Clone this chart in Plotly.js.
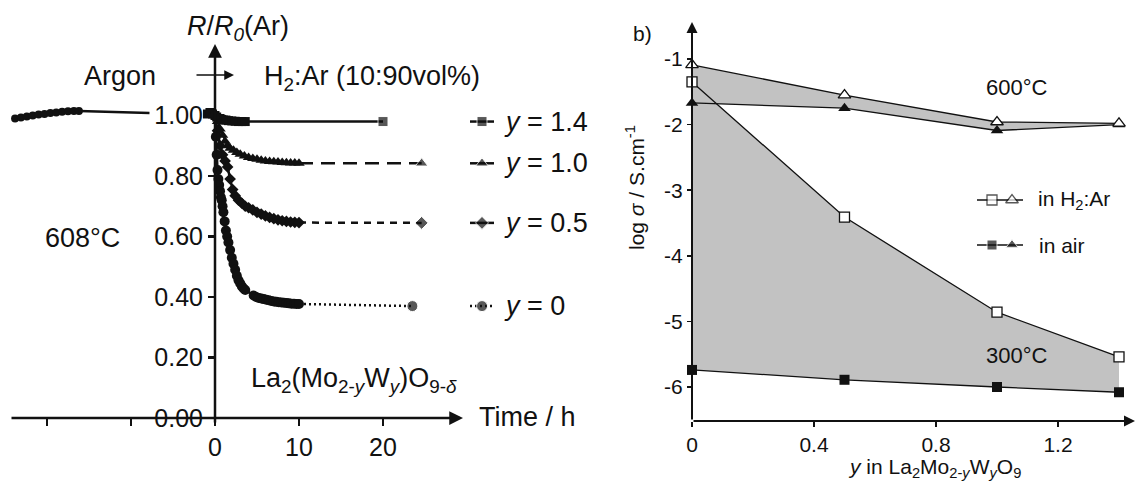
<!DOCTYPE html>
<html>
<head>
<meta charset="utf-8">
<script src="https://cdn.plot.ly/plotly-3.0.1.min.js"></script>
<style>html,body{margin:0;padding:0;background:#fff;}#chart{width:1136px;height:484px;}</style>
</head>
<body>
<div id="chart"></div>
<script>
// ---------- Panel a) data : R/R0 vs time ----------
const argonTime = [-23.8,-23.1,-22.4,-21.7,-21.0,-20.3,-19.6,-18.9,-18.2,-17.5,-16.8,-16.2];
const argonR    = [0.99,0.993,0.997,1.0,1.003,1.005,1.008,1.01,1.012,1.014,1.015,1.015];
const argonEndTime = -7.8;
const argonEndR = 1.008;

const seriesLabels = ['1.4', '1.0', '0.5', '0'];

const time14 = [-0.9,-0.6,-0.3,0,0.2,0.4,0.6,0.8,1.0,1.3,1.6,2.0,2.4,2.8,3.2,3.6];
const r14    = [1.005,1.01,1.005,1.0,0.995,0.99,0.99,0.987,0.985,0.985,0.983,0.982,0.981,0.98,0.98,0.98];

const time10 = [0,0.3,0.6,0.9,1.2,1.5,1.8,2.2,2.6,3.0,3.5,4.0,4.5,5.0,5.5,6.0,6.5,7.0,7.5,8.0,8.5,9.0,9.5,10.0];
const r10    = [1.0,0.98,0.955,0.935,0.915,0.9,0.892,0.885,0.878,0.872,0.866,0.861,0.858,0.855,0.852,0.85,0.848,0.847,0.846,0.845,0.844,0.843,0.843,0.842];

const time05 = [0,0.3,0.6,0.9,1.2,1.5,1.8,2.1,2.4,2.8,3.2,3.6,4.0,4.5,5.0,5.5,6.0,6.5,7.0,7.5,8.0,8.5,9.0,9.5,10.0];
const r05    = [1.0,0.95,0.9,0.87,0.85,0.83,0.79,0.755,0.735,0.72,0.71,0.70,0.695,0.688,0.68,0.674,0.668,0.663,0.659,0.655,0.652,0.65,0.648,0.647,0.646];

const time00 = [0,0.1,0.2,0.3,0.4,0.5,0.6,0.7,0.8,0.9,1.0,1.15,1.3,1.45,1.6,1.8,2.0,2.2,2.4,2.6,2.8,3.0,3.2,3.4,3.6,4.6,4.9,5.2,5.5,5.8,6.1,6.4,6.7,7.0,7.3,7.6,7.9,8.2,8.5,8.8,9.1,9.4,9.7,10.0];
const r00    = [1.0,0.93,0.87,0.82,0.79,0.77,0.75,0.73,0.72,0.70,0.68,0.65,0.62,0.6,0.58,0.555,0.53,0.51,0.49,0.47,0.455,0.445,0.435,0.428,0.423,0.405,0.4,0.397,0.395,0.393,0.391,0.389,0.387,0.385,0.384,0.383,0.382,0.381,0.38,0.379,0.378,0.378,0.377,0.377];

const endTime = [20, 24.6, 24.6, 23.5];
const endR    = [0.98, 0.842, 0.645, 0.37];

const yTicksA = [0, 0.2, 0.4, 0.6, 0.8, 1.0];
const yTickTextA = ['0.00', '0.20', '0.40', '0.60', '0.80', '1.00'];
const xTicksA = [-20, -10, 0, 10, 20];
const xTickTextA = ['', '', '0', '10', '20'];

// ---------- Panel b) data : log sigma vs y ----------
const yW      = [0, 0.5, 1.0, 1.4];
const h2ar600 = [-1.09, -1.55, -1.96, -1.98];
const air600  = [-1.67, -1.75, -2.09, -2.0];
const h2ar300 = [-1.35, -3.41, -4.86, -5.54];
const air300  = [-5.74, -5.89, -6.00, -6.08];

const yTicksB = [-1, -2, -3, -4, -5, -6];
const yTickTextB = ['-1', '-2', '-3', '-4', '-5', '-6'];
const xTicksB = [0, 0.4, 0.8, 1.2];
const xTickTextB = ['0', '0.4', '0.8', '1.2'];

// ---------- layout geometry ----------
const W = 1136, H = 484;
const FONT = 'Liberation Sans, Arial, Helvetica, sans-serif';
const INK = '#111';
const px = v => v / W;
const py = v => 1 - v / H;

const aX0 = 215, aXs = 8.4, aY0 = 418, aYs = 302.5;
const bX0 = 692, bXs = 305, bY1 = 59, bYs = 65.6;

const symbolsA = ['square', 'triangle-up', 'diamond', 'circle'];
const sizesA = [9, 10, 9, 10];
const dashA = ['solid', '14px,8px', '7px,6px', '2px,3px'];
const timesA = [time14, time10, time05, time00];
const valsA = [r14, r10, r05, r00];

const traces = [];

// panel b fills first (so that all lines and markers lie on top)
const GREY = '#c2c2c2';
traces.push({x: yW, y: air300, xaxis: 'x2', yaxis: 'y2', mode: 'lines', line: {width: 0, color: 'rgba(0,0,0,0)'}, hoverinfo: 'skip'});
traces.push({x: yW, y: h2ar300, xaxis: 'x2', yaxis: 'y2', mode: 'lines', line: {width: 0, color: 'rgba(0,0,0,0)'}, fill: 'tonexty', fillcolor: GREY, hoverinfo: 'skip'});
traces.push({x: yW, y: air600, xaxis: 'x2', yaxis: 'y2', mode: 'lines', line: {width: 0, color: 'rgba(0,0,0,0)'}, hoverinfo: 'skip'});
traces.push({x: yW, y: h2ar600, xaxis: 'x2', yaxis: 'y2', mode: 'lines', line: {width: 0, color: 'rgba(0,0,0,0)'}, fill: 'tonexty', fillcolor: GREY, hoverinfo: 'skip'});

// argon segment
traces.push({x: argonTime, y: argonR, xaxis: 'x', yaxis: 'y', mode: 'lines+markers',
  line: {color: INK, width: 2.5}, marker: {symbol: 'circle', size: 8, color: INK}, hoverinfo: 'skip'});
traces.push({x: [argonTime[argonTime.length - 1], argonEndTime], y: [argonR[argonR.length - 1], argonEndR],
  xaxis: 'x', yaxis: 'y', mode: 'lines', line: {color: INK, width: 2.5}, hoverinfo: 'skip'});

for (let i = 0; i < 4; i++) {
  const t = timesA[i], r = valsA[i];
  traces.push({x: [t[t.length - 1], endTime[i]], y: [r[r.length - 1], endR[i]], xaxis: 'x', yaxis: 'y',
    mode: 'lines+markers', line: {color: INK, width: 2.5, dash: dashA[i]},
    marker: {symbol: symbolsA[i], size: [0, sizesA[i] + 1], color: INK}, cliponaxis: false, hoverinfo: 'skip'});
  traces.push({x: t, y: r, xaxis: 'x', yaxis: 'y', mode: 'lines+markers',
    line: {color: INK, width: 2.5}, marker: {symbol: symbolsA[i], size: sizesA[i], color: INK},
    cliponaxis: false, hoverinfo: 'skip'});
  traces.push({x: [(470 - aX0) / aXs, (482 - aX0) / aXs, (494 - aX0) / aXs], y: [endR[i], endR[i], endR[i]],
    xaxis: 'x', yaxis: 'y', mode: 'lines+markers', line: {color: INK, width: 2.5, dash: i === 3 ? '2px,3px' : 'solid'},
    marker: {symbol: symbolsA[i], size: [0, sizesA[i] + 1, 0], color: INK}, cliponaxis: false, hoverinfo: 'skip'});
}

const lineB = {color: INK, width: 1.3};
traces.push({x: yW, y: air300, xaxis: 'x2', yaxis: 'y2', mode: 'lines+markers', line: lineB,
  marker: {symbol: 'square', size: 10, color: INK}, cliponaxis: false, hoverinfo: 'skip'});
traces.push({x: yW, y: air600, xaxis: 'x2', yaxis: 'y2', mode: 'lines+markers', line: lineB,
  marker: {symbol: 'triangle-up', size: 11, color: INK}, cliponaxis: false, hoverinfo: 'skip'});
traces.push({x: yW, y: h2ar300, xaxis: 'x2', yaxis: 'y2', mode: 'lines+markers', line: lineB,
  marker: {symbol: 'square', size: 10, color: '#fff', line: {color: INK, width: 1.3}}, cliponaxis: false, hoverinfo: 'skip'});
traces.push({x: yW, y: h2ar600, xaxis: 'x2', yaxis: 'y2', mode: 'lines+markers', line: lineB,
  marker: {symbol: 'triangle-up', size: 11, color: '#fff', line: {color: INK, width: 1.3}}, cliponaxis: false, hoverinfo: 'skip'});

const bx = p => (p - bX0) / bXs;
const by = p => -1 - (p - bY1) / bYs;
traces.push({x: [bx(977), bx(992), bx(1012), bx(1023)], y: [by(200), by(200), by(200), by(200)], xaxis: 'x2', yaxis: 'y2',
  mode: 'lines+markers', line: lineB,
  marker: {symbol: ['square', 'square', 'triangle-up', 'triangle-up'], size: [0, 10, 11, 0], color: '#fff', line: {color: INK, width: 1.3}},
  cliponaxis: false, hoverinfo: 'skip'});
traces.push({x: [bx(977), bx(992), bx(1012), bx(1023)], y: [by(245), by(245), by(245), by(245)], xaxis: 'x2', yaxis: 'y2',
  mode: 'lines+markers', line: lineB,
  marker: {symbol: ['square', 'square', 'triangle-up', 'triangle-up'], size: [0, 10, 11, 0], color: INK},
  cliponaxis: false, hoverinfo: 'skip'});

function arrow(xr, yr, x0, y0, x1, y1, w, s) {
  return {xref: xr, yref: yr, axref: xr, ayref: yr, x: x1, y: y1, ax: x0, ay: y0, text: '',
    showarrow: true, arrowhead: 2, arrowsize: s, arrowwidth: w, arrowcolor: INK, standoff: 0, startstandoff: 0};
}
function txt(x, y, text, size, opts) {
  return Object.assign({xref: 'paper', yref: 'paper', x: px(x), y: py(y), text: text, showarrow: false,
    font: {family: FONT, size: size, color: INK}, xanchor: 'center', yanchor: 'middle'}, opts || {});
}

const annotations = [
  arrow('x', 'y', (10 - aX0) / aXs, 0, (463 - aX0) / aXs, 0, 2.5, 1.1),
  arrow('x', 'y', 0, -0.02, 0, (aY0 - 44) / aYs, 2.5, 1.1),
  arrow('x', 'y', (195 - aX0) / aXs, (aY0 - 75) / aYs, (234 - aX0) / aXs, (aY0 - 75) / aYs, 1.5, 1.3),
  arrow('x2', 'y2', 0, by(421), bx(1135), by(421), 2, 1.1),
  arrow('x2', 'y2', 0, by(421), 0, by(22), 2, 1.1),
  txt(238, 28, '<i>R</i>/<i>R</i><sub><i>0</i></sub>(Ar)', 27),
  txt(120, 76, 'Argon', 27),
  txt(262, 78, 'H<sub>2</sub>:Ar (10:90vol%)', 27, {xanchor: 'left'}),
  txt(82, 238, '608°C', 27),
  txt(249, 380, 'La<sub>2</sub>(Mo<sub>2-<i>y</i></sub>W<sub><i>y</i></sub>)O<sub>9-<i>δ</i></sub>', 27, {xanchor: 'left'}),
  txt(477, 417, 'Time / h', 27, {xanchor: 'left'}),
  txt(642, 34, 'b)', 21),
  txt(1017, 87, '600°C', 22),
  txt(1017, 355, '300°C', 22),
  txt(1036, 200, 'in H<sub>2</sub>:Ar', 21, {xanchor: 'left'}),
  txt(1037, 245, 'in air', 21, {xanchor: 'left'}),
  txt(934, 468, '<i>y</i> in La<sub>2</sub>Mo<sub>2-<i>y</i></sub>W<sub><i>y</i></sub>O<sub>9</sub>', 21),
  txt(635, 188, 'log <i>σ</i> / S.cm<sup>-1</sup>', 21, {textangle: -90})
];
for (let i = 0; i < 4; i++) {
  annotations.push({xref: 'x', yref: 'y', x: (502 - aX0) / aXs, y: endR[i], text: '<i>y</i> = ' + seriesLabels[i],
    showarrow: false, xanchor: 'left', yanchor: 'middle', font: {family: FONT, size: 27, color: INK}});
}

const axBase = {showline: false, zeroline: false, showgrid: false, ticks: 'outside', tickcolor: INK, fixedrange: true};

const layout = {
  width: W, height: H, margin: {l: 0, r: 0, t: 0, b: 0},
  paper_bgcolor: '#fff', plot_bgcolor: 'rgba(0,0,0,0)', showlegend: false,
  font: {family: FONT, color: INK},
  xaxis: Object.assign({}, axBase, {domain: [0, px(602)], range: [-aX0 / aXs, (602 - aX0) / aXs],
    anchor: 'free', position: 1 - aY0 / H, ticklen: 7, tickwidth: 2.2,
    tickvals: xTicksA, ticktext: xTickTextA, tickfont: {family: FONT, size: 25, color: INK}}),
  yaxis: Object.assign({}, axBase, {domain: [0, 1], range: [(aY0 - H) / aYs, aY0 / aYs],
    anchor: 'free', position: px(aX0), ticklen: 7, tickwidth: 2.2,
    tickvals: yTicksA, ticktext: yTickTextA, tickfont: {family: FONT, size: 25, color: INK}}),
  xaxis2: Object.assign({}, axBase, {domain: [px(640), 1], range: [(640 - bX0) / bXs, (W - bX0) / bXs],
    anchor: 'free', position: 1 - 421 / H, ticklen: 5, tickwidth: 1.5,
    tickvals: xTicksB, ticktext: xTickTextB, tickfont: {family: FONT, size: 21, color: INK}}),
  yaxis2: Object.assign({}, axBase, {domain: [0, 1], range: [by(H), by(0)],
    anchor: 'free', position: px(bX0), ticklen: 5, tickwidth: 1.5,
    tickvals: yTicksB, ticktext: yTickTextB, tickfont: {family: FONT, size: 21, color: INK}}),
  annotations: annotations
};

Plotly.newPlot('chart', traces, layout, {staticPlot: true, displayModeBar: false});
</script>
</body>
</html>
